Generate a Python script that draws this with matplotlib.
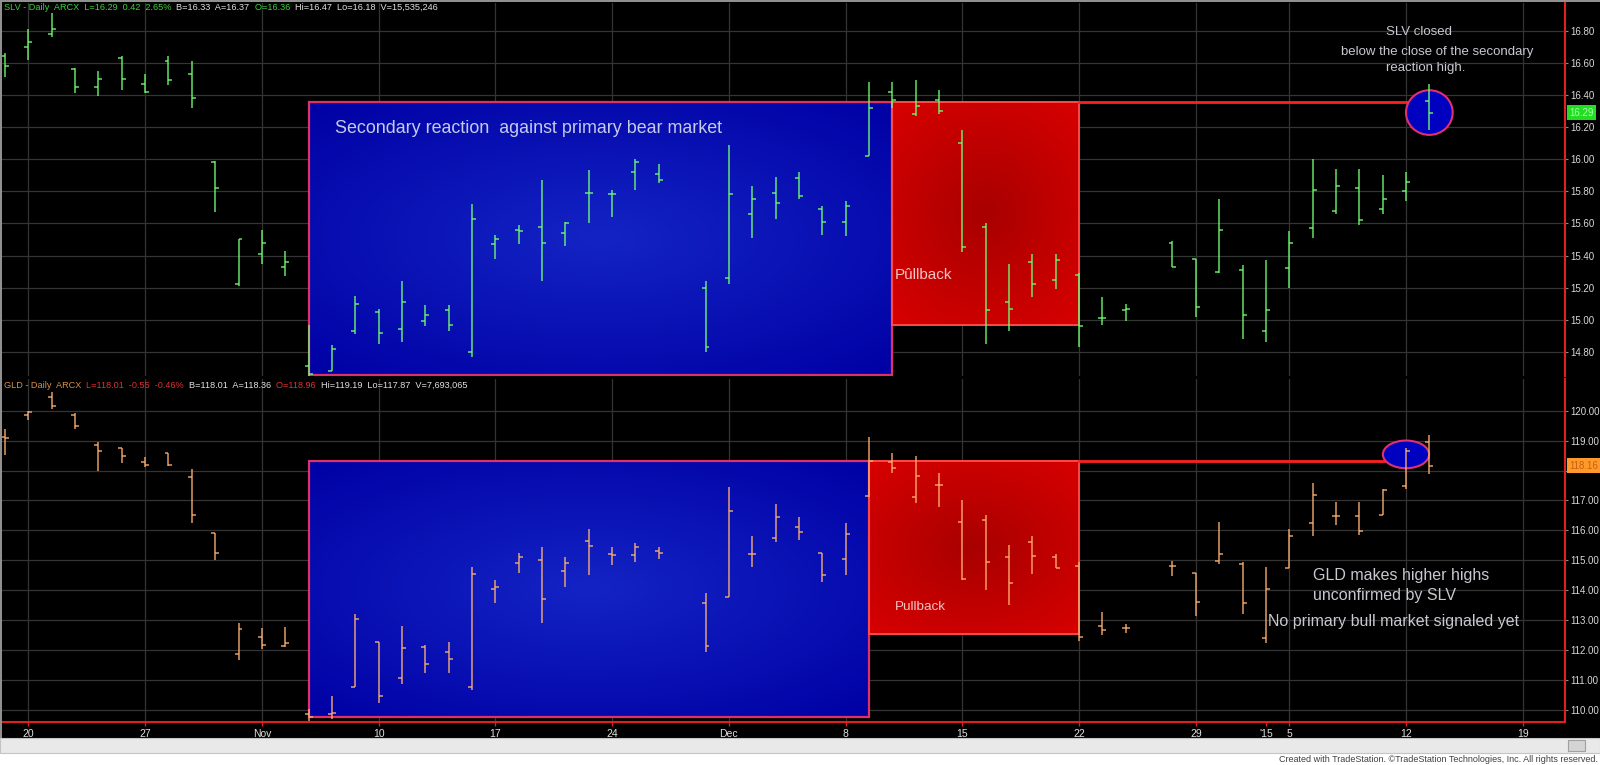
import numpy as np
import matplotlib.pyplot as plt
import matplotlib.colors as mcolors
from matplotlib.patches import Rectangle, Ellipse
from matplotlib.offsetbox import TextArea, HPacker, AnchoredOffsetbox

# weekday slot of every trading day, starting Fri Oct 17 2014 (Nov 27 / Dec 25 slots stay empty)
day_slot = [0, 1, 2, 3, 4, 5, 6, 7, 8, 9, 10, 11, 12, 13, 14, 15, 16, 17, 18, 19, 20,
            21, 22, 23, 24, 25, 26, 27, 28, 30, 31, 32, 33, 34, 35, 36, 37, 38, 39, 40,
            41, 42, 43, 44, 45, 46, 47, 48, 50, 51, 52, 53, 54, 55, 56, 57, 58, 59, 60, 61]

slv_open = [16.64, 16.70, 16.78, 16.56, 16.45, 16.63, 16.47, 16.61, 16.53, 15.98, 15.22, 15.41, 15.33,
            14.71, 14.68, 14.93, 15.05, 14.94, 14.99, 15.06, 14.80, 15.47, 15.56, 15.58, 15.54, 15.79,
            15.78, 15.92, 15.91, 15.20, 15.26, 15.66, 15.79, 15.88, 15.69, 15.61, 16.02, 16.42, 16.28,
            16.37, 16.10, 15.58, 15.11, 15.36, 15.25, 15.28, 15.01, 15.06, 15.48, 15.38, 15.30, 15.31,
            14.93, 15.32, 15.57, 15.68, 15.82, 15.69, 15.80, 16.36]
slv_high = [16.66, 16.81, 16.91, 16.57, 16.55, 16.64, 16.53, 16.64, 16.61, 15.99, 15.50, 15.56, 15.43,
            14.97, 14.84, 15.15, 15.07, 15.24, 15.09, 15.09, 15.72, 15.53, 15.59, 15.87, 15.61, 15.93,
            15.81, 16.00, 15.97, 15.24, 16.09, 15.83, 15.89, 15.92, 15.71, 15.74, 16.48, 16.48, 16.49,
            16.43, 16.18, 15.60, 15.35, 15.41, 15.41, 15.29, 15.14, 15.10, 15.49, 15.38, 15.75, 15.34,
            15.37, 15.55, 16.00, 15.94, 15.94, 15.90, 15.92, 16.47]
slv_low = [16.51, 16.62, 16.76, 16.41, 16.39, 16.43, 16.41, 16.46, 16.32, 15.67, 15.21, 15.35, 15.27,
           14.65, 14.68, 14.91, 14.85, 14.86, 14.96, 14.93, 14.77, 15.38, 15.47, 15.24, 15.46, 15.60,
           15.64, 15.81, 15.85, 14.80, 15.22, 15.51, 15.63, 15.75, 15.53, 15.52, 16.02, 16.32, 16.27,
           16.28, 15.42, 14.85, 14.93, 15.14, 15.19, 14.83, 14.97, 14.99, 15.33, 15.02, 15.29, 14.88,
           14.86, 15.20, 15.51, 15.66, 15.59, 15.66, 15.74, 16.18]
slv_close = [16.58, 16.73, 16.81, 16.45, 16.50, 16.50, 16.42, 16.49, 16.38, 15.82, 15.50, 15.48, 15.36,
             14.66, 14.82, 15.10, 14.92, 15.11, 15.03, 14.97, 15.63, 15.50, 15.55, 15.48, 15.60, 15.79,
             15.78, 15.98, 15.87, 14.83, 15.78, 15.75, 15.73, 15.77, 15.61, 15.71, 16.32, 16.37, 16.33,
             16.30, 15.45, 15.06, 15.07, 15.22, 15.37, 14.96, 15.01, 15.07, 15.33, 15.08, 15.56, 15.03,
             15.06, 15.48, 15.81, 15.83, 15.62, 15.75, 15.86, 16.29]

gld_open = [119.13, 119.86, 120.47, 119.86, 118.85, 118.74, 118.30, 118.60, 117.78, 115.90, 111.87, 112.43,
            112.14, 109.85, 109.85, 110.78, 112.28, 111.06, 112.12, 111.95, 110.78, 114.03, 114.92, 115.01,
            114.64, 115.66, 115.21, 115.18, 115.32, 113.59, 113.79, 115.20, 115.74, 116.10, 115.24, 115.04,
            117.15, 118.30, 117.11, 117.52, 116.29, 116.34, 115.10, 115.61, 115.10, 114.81, 112.81, 112.73,
            114.82, 114.57, 114.97, 114.87, 112.39, 114.76, 116.26, 116.49, 116.49, 116.53, 117.50, 118.96]
gld_high = [119.38, 120.00, 120.63, 119.93, 118.96, 118.74, 118.46, 118.60, 118.04, 115.90, 112.92, 112.73,
            112.76, 110.05, 110.48, 113.20, 112.28, 112.81, 112.17, 112.28, 114.79, 114.34, 115.26, 115.44,
            115.10, 116.04, 115.46, 115.57, 115.44, 113.90, 117.46, 115.81, 116.88, 116.44, 115.26, 116.26,
            119.13, 118.60, 118.49, 117.93, 117.02, 116.53, 115.50, 115.83, 115.21, 114.93, 113.26, 112.88,
            114.99, 114.59, 116.28, 114.95, 114.79, 116.04, 117.58, 116.94, 116.94, 117.39, 118.77, 119.19]
gld_low = [118.52, 119.69, 120.05, 119.38, 118.00, 118.24, 118.13, 118.15, 116.24, 115.01, 111.67, 112.03,
           112.12, 109.62, 109.70, 110.76, 110.24, 110.87, 111.23, 111.25, 110.67, 113.59, 114.59, 112.90,
           114.12, 114.51, 114.84, 114.95, 115.04, 111.95, 113.77, 114.77, 115.62, 115.68, 114.29, 114.51,
           117.13, 117.93, 116.91, 116.77, 114.34, 114.01, 113.52, 114.53, 114.76, 112.31, 112.50, 112.56,
           114.48, 113.15, 114.87, 113.21, 112.25, 114.73, 115.81, 116.17, 115.86, 116.53, 117.39, 117.87]
gld_close = [119.10, 119.95, 120.17, 119.49, 118.66, 118.49, 118.19, 118.19, 116.52, 115.26, 112.70, 112.17,
             112.25, 109.75, 109.90, 113.03, 110.47, 112.06, 111.54, 111.69, 114.54, 114.12, 115.12, 113.71,
             114.92, 115.48, 115.18, 115.46, 115.24, 112.14, 116.66, 115.20, 116.44, 115.96, 114.51, 115.88,
             118.33, 118.08, 117.82, 117.52, 114.37, 114.95, 114.23, 115.13, 114.76, 112.45, 112.67, 112.73,
             114.82, 113.61, 115.21, 113.56, 114.05, 115.81, 117.17, 116.49, 115.97, 117.35, 118.66, 118.16]

date_slots = [1, 6, 11, 16, 21, 26, 31, 36, 41, 46, 51, 54, 55, 60, 65]
date_labels = ['20', '27', 'Nov', '10', '17', '24', 'Dec', '8', '15', '22', '29', "'15", '5', '12', '19']
slv_ticks = [14.8, 15.0, 15.2, 15.4, 15.6, 15.8, 16.0, 16.2, 16.4, 16.6, 16.8]
gld_ticks = [110, 111, 112, 113, 114, 115, 116, 117, 118, 119, 120]

FONT = ['Liberation Sans', 'DejaVu Sans']
NARROW = ['Liberation Sans Narrow', 'Liberation Sans', 'DejaVu Sans']

W, H = 1600, 765
fig = plt.figure(figsize=(16, 7.65), dpi=100, facecolor='black')
ax1 = fig.add_axes([2 / W, 1 - 376 / H, 1563 / W, 373 / H])
ax2 = fig.add_axes([2 / W, 1 - 722 / H, 1563 / W, 343 / H])


def gradient_box(ax, x0, x1, y0, y1, c_edge, c_mid):
    gx, gy = np.meshgrid(np.linspace(-1, 1, 200), np.linspace(-1, 1, 200))
    r = np.clip(np.hypot(gx * 0.9, gy) / 1.35, 0, 1)[..., None]
    e = np.array(mcolors.to_rgb(c_edge))
    m = np.array(mcolors.to_rgb(c_mid))
    ax.imshow(m + (e - m) * r, extent=(x0, x1, y0, y1), aspect='auto', origin='lower',
              zorder=1.8, interpolation='bilinear')


def ohlc(ax, o, h, l, c, color):
    x = np.array(day_slot, dtype=float)
    w = 0.17
    ax.vlines(x, l, h, color=color, lw=1.3, alpha=0.75, zorder=3)
    ax.hlines(o, x - w, x, color=color, lw=1.3, alpha=0.75, zorder=3)
    ax.hlines(c, x, x + w, color=color, lw=1.3, alpha=0.75, zorder=3)


def style(ax, ticks, ylim, labels):
    ax.set_facecolor('black')
    ax.set_axisbelow(True)
    ax.set_xlim(-0.13, 66.81)
    ax.set_ylim(*ylim)
    for s in ['top', 'left', 'bottom']:
        ax.spines[s].set_visible(False)
    ax.spines['right'].set_color('#e02020')
    ax.spines['right'].set_linewidth(1.5)
    ax.yaxis.tick_right()
    ax.set_yticks(ticks)
    ax.set_yticklabels(labels)
    ax.tick_params(axis='y', colors='#8a8a8a', labelcolor='#d8d8d8', length=2.5, width=0.8,
                   labelsize=7, pad=1)
    for t in ax.get_yticklabels():
        t.set_family(FONT)
    ax.grid(axis='y', color='#343434', lw=0.9)
    for s in date_slots:
        if s != 54:
            ax.axvline(s, color='#343434', lw=0.9, zorder=0.6)
    ax.set_xticks(date_slots)


def header(ax, parts, y):
    boxes = [TextArea(t, textprops=dict(color=c, fontsize=6.6, family=NARROW)) for t, c in parts]
    pack = HPacker(children=boxes, align='baseline', pad=0, sep=0)
    box = AnchoredOffsetbox(loc='upper left', child=pack, pad=0, borderpad=0, frameon=False,
                            bbox_to_anchor=(4 / W, 1 - y / H), bbox_transform=fig.transFigure)
    ax.add_artist(box)


# ---------------- SLV ----------------
style(ax1, slv_ticks, (14.650, 16.972), ['%.2f' % t for t in slv_ticks])
ax1.tick_params(axis='x', length=0, labelbottom=False)
gradient_box(ax1, 13, 38, 14.655, 16.355, '#0000a4', '#1424c4')
ax1.add_patch(Rectangle((13, 14.655), 25, 16.355 - 14.655, fill=False, ec='#e0306a', lw=1.6, zorder=2))
gradient_box(ax1, 38, 46, 14.97, 16.355, '#d80000', '#a80000')
ax1.add_patch(Rectangle((38, 14.97), 8, 16.355 - 14.97, fill=False, ec='#ff4a4a', lw=1.4, zorder=2))
ax1.plot([46, 61], [16.355, 16.355], color='#ff2020', lw=2.0, zorder=2.5)
ax1.add_patch(Ellipse((61, 16.29), 2.0, 0.278, fc='#0000c0', ec='#e03070', lw=1.5, zorder=2.6))
ohlc(ax1, slv_open, slv_high, slv_low, slv_close, '#70ff70')

ax1.text(14.13, 16.19, 'Secondary reaction  against primary bear market', color='#c4cbe8',
         fontsize=12.9, family=FONT, va='center', ha='left', zorder=4)
ax1.text(38.1, 15.28, 'Pûllback', color='#f2c4c4', fontsize=11, family=FONT, va='center', ha='left', zorder=4)
ax1.text(60.54, 16.79, 'SLV closed', color='#c8c8d0', fontsize=9.5, family=FONT, ha='center', va='center', zorder=4)
ax1.text(61.33, 16.67, 'below the close of the secondary', color='#c8c8d0', fontsize=9.5, family=FONT,
         ha='center', va='center', zorder=4)
ax1.text(60.84, 16.565, 'reaction high.', color='#c8c8d0', fontsize=9.5, family=FONT, ha='center',
         va='center', zorder=4)
ax1.text(1.003, slv_close[-1], '%.2f' % slv_close[-1], transform=ax1.get_yaxis_transform(), color='#a8ffa8',
         fontsize=7, family=FONT, va='center', ha='left', zorder=5,
         bbox=dict(boxstyle='square,pad=0.25', fc='#22dd22', ec='none'))

header(ax1, [('SLV - Daily  ARCX  L=16.29  0.42  2.65%  ', '#3ecf3e'), ('B=16.33  A=16.37  ', '#e0e0e0'),
             ('O=16.36  ', '#3ecf3e'), ('Hi=16.47  Lo=16.18  V=15,535,246', '#e0e0e0')], 3)

# ---------------- GLD ----------------
# the 118.00 label sits under the last-price box, as in the original
gld_labels = ['' if t == 118 else '%.2f' % t for t in gld_ticks]
style(ax2, gld_ticks, (109.599, 121.059), gld_labels)
ax2.spines['bottom'].set_visible(True)
ax2.spines['bottom'].set_color('#e02020')
ax2.spines['bottom'].set_linewidth(1.5)
ax2.set_xticklabels(date_labels, family=NARROW)
ax2.tick_params(axis='x', colors='#e02020', labelcolor='#e0e0e0', length=3, width=1, labelsize=7.5, pad=2)
gradient_box(ax2, 13, 37, 109.75, 118.32, '#0000a4', '#1424c4')
ax2.add_patch(Rectangle((13, 109.75), 24, 118.32 - 109.75, fill=False, ec='#e0306a', lw=1.6, zorder=2))
gradient_box(ax2, 37, 46, 112.54, 118.32, '#d80000', '#a80000')
ax2.add_patch(Rectangle((37, 112.54), 9, 118.32 - 112.54, fill=False, ec='#ff4a4a', lw=1.4, zorder=2))
ax2.plot([46, 60], [118.32, 118.32], color='#ff2020', lw=2.0, zorder=2.5)
ax2.add_patch(Ellipse((60, 118.54), 1.98, 0.925, fc='#0000c0', ec='#e03070', lw=1.5, zorder=2.6))
ohlc(ax2, gld_open, gld_high, gld_low, gld_close, '#ffb070')

ax2.text(38.1, 113.45, 'Pullback', color='#f2c4c4', fontsize=9.7, family=FONT, va='center', ha='left', zorder=4)
ax2.text(56.02, 114.51, 'GLD makes higher highs', color='#c8c8d0', fontsize=11.5, family=FONT,
         va='center', ha='left', zorder=4)
ax2.text(56.02, 113.83, 'unconfirmed by SLV', color='#c8c8d0', fontsize=11.5, family=FONT,
         va='center', ha='left', zorder=4)
ax2.text(54.09, 112.96, 'No primary bull market signaled yet', color='#c8c8d0', fontsize=11.5, family=FONT,
         va='center', ha='left', zorder=4)
ax2.text(1.003, gld_close[-1], '%.2f' % gld_close[-1], transform=ax2.get_yaxis_transform(), color='#c86010',
         fontsize=7, family=FONT, va='center', ha='left', zorder=5,
         bbox=dict(boxstyle='square,pad=0.25', fc='#ff9a2a', ec='none'))

header(ax2, [('GLD - Daily  ARCX  ', '#d9904a'), ('L=118.01  -0.55  -0.46%  ', '#e03030'),
             ('B=118.01  A=118.36  ', '#e0e0e0'), ('O=118.96  ', '#e03030'),
             ('Hi=119.19  Lo=117.87  V=7,693,065', '#e0e0e0')], 381)

# ---------------- window chrome ----------------
fig.patches.append(Rectangle((0, 0), 1, 27 / H, transform=fig.transFigure, fc='white', ec='none', zorder=0))
fig.patches.append(Rectangle((0, 12 / H), 1, 15 / H, transform=fig.transFigure, fc='#e9e9e9',
                             ec='#c4c4c4', lw=0.8, zorder=1))
fig.patches.append(Rectangle((1568 / W, 14 / H), 17 / W, 11 / H, transform=fig.transFigure, fc='#d4d4d4',
                             ec='#a0a0a0', lw=0.8, zorder=2))
fig.patches.append(Rectangle((0, 1 - 2 / H), 1, 2 / H, transform=fig.transFigure, fc='#909090', ec='none'))
fig.patches.append(Rectangle((0, 27 / H), 2 / W, 1, transform=fig.transFigure, fc='#909090', ec='none'))
fig.text(0.999, 6 / H, 'Created with TradeStation. ©TradeStation Technologies, Inc. All rights reserved.',
         ha='right', va='center', fontsize=6.5, color='#404040', family=NARROW)

fig.savefig('out.png', dpi=100, facecolor='black')
